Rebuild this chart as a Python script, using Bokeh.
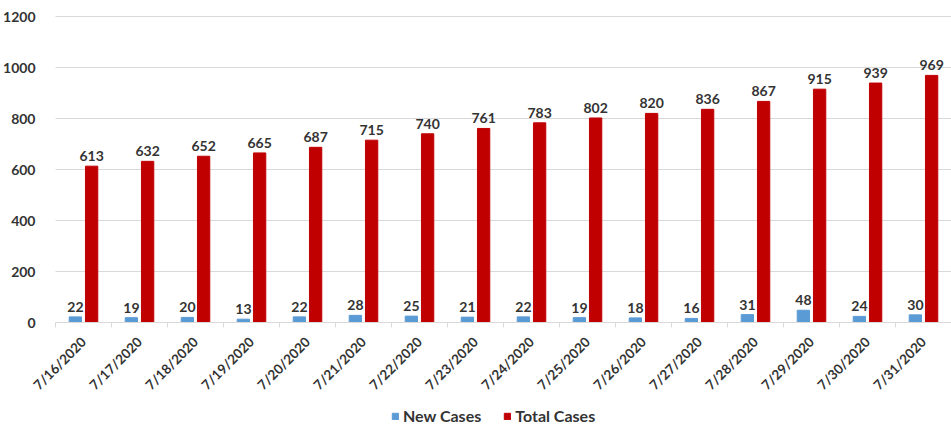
import math
from bokeh.plotting import figure
from bokeh.models import ColumnDataSource, FixedTicker, Legend, LegendItem
from bokeh.core.properties import value
from bokeh.embed import file_html
from bokeh.resources import INLINE

dates = ["7/16/2020", "7/17/2020", "7/18/2020", "7/19/2020", "7/20/2020", "7/21/2020",
         "7/22/2020", "7/23/2020", "7/24/2020", "7/25/2020", "7/26/2020", "7/27/2020",
         "7/28/2020", "7/29/2020", "7/30/2020", "7/31/2020"]
new_cases = [22, 19, 20, 13, 22, 28, 25, 21, 22, 19, 18, 16, 31, 48, 24, 30]
total_cases = [613, 632, 652, 665, 687, 715, 740, 761, 783, 802, 820, 836, 867, 915, 939, 969]
y_ticks = [0, 200, 400, 600, 800, 1000, 1200]

FONT = "Lato"
TXT = "#333333"
BLUE = "#5B9BD5"
RED = "#C00000"

xs = list(range(len(dates)))
off = 0.145
src = ColumnDataSource(dict(
    x=xs,
    xn=[x - off for x in xs],
    xt=[x + off for x in xs],
    new=new_cases,
    total=total_cases,
    new_lbl=[str(v) for v in new_cases],
    total_lbl=[str(v) for v in total_cases],
))

# frame covers the whole canvas; axes are fixed inside it
per_px = 1200 / 306
y_bottom = -104 * per_px
y_top = 1200 + 16 * per_px
x_left = -0.5 - 55 / 56.0
x_right = -0.5 + 896 / 56.0
p = figure(width=951, height=426, output_backend="svg", toolbar_location=None,
           x_range=(x_left, x_right), y_range=(y_bottom, y_top),
           min_border_left=0, min_border_right=0, min_border_top=0, min_border_bottom=0)
p.outline_line_color = None
p.background_fill_color = "white"

r_new = p.vbar(x="xn", top="new", width=0.22, color=BLUE, source=src)
r_tot = p.vbar(x="xt", top="total", width=0.22, color=RED, source=src)

for xcol, ycol, lcol in (("xn", "new", "new_lbl"), ("xt", "total", "total_lbl")):
    p.text(x=xcol, y=ycol, text=lcol, source=src, text_align="center", text_baseline="bottom",
           y_offset=-5, text_font=value(FONT), text_font_style="bold",
           text_font_size="14px", text_color=TXT)

# y axis
p.yaxis.fixed_location = -0.5
p.yaxis.ticker = FixedTicker(ticks=y_ticks)
p.yaxis.axis_line_color = None
p.yaxis.major_tick_line_color = None
p.yaxis.minor_tick_line_color = None
p.yaxis.major_label_standoff = 14
p.yaxis.major_label_text_font = FONT
p.yaxis.major_label_text_font_style = "bold"
p.yaxis.major_label_text_font_size = "14px"
p.yaxis.major_label_text_color = TXT

p.ygrid.grid_line_color = "#d9d9d9"
p.ygrid.grid_line_width = 1
p.ygrid.cross_bounds = (-0.5, 16)
p.xgrid.grid_line_color = None

# x axis
p.xaxis.fixed_location = 0
p.xaxis.bounds = (-0.5, 16)
p.xaxis.ticker = FixedTicker(ticks=xs, minor_ticks=[x + 0.5 for x in [-1] + xs])
p.xaxis.major_label_overrides = {i: d for i, d in enumerate(dates)}
p.xaxis.major_label_orientation = math.pi / 4
p.xaxis.axis_line_color = "#d9d9d9"
p.xaxis.major_tick_line_color = None
p.xaxis.minor_tick_line_color = "#d9d9d9"
p.xaxis.minor_tick_in = 0
p.xaxis.minor_tick_out = 5
p.xaxis.major_label_standoff = 11
p.xaxis.major_label_text_font = FONT
p.xaxis.major_label_text_font_style = "bold"
p.xaxis.major_label_text_font_size = "13.5px"
p.xaxis.major_label_text_color = TXT

legend = Legend(items=[LegendItem(label="New Cases", renderers=[r_new]),
                       LegendItem(label="Total Cases", renderers=[r_tot])],
                orientation="horizontal", location=(391, 1),
                border_line_color=None, background_fill_alpha=0,
                glyph_width=8, glyph_height=8, label_text_font=FONT,
                label_text_font_style="bold", label_text_font_size="16px",
                label_text_color=TXT, spacing=22, padding=2, margin=0,
                label_standoff=4)
p.add_layout(legend, "center")

open("out.html", "w").write(file_html(p, INLINE))
